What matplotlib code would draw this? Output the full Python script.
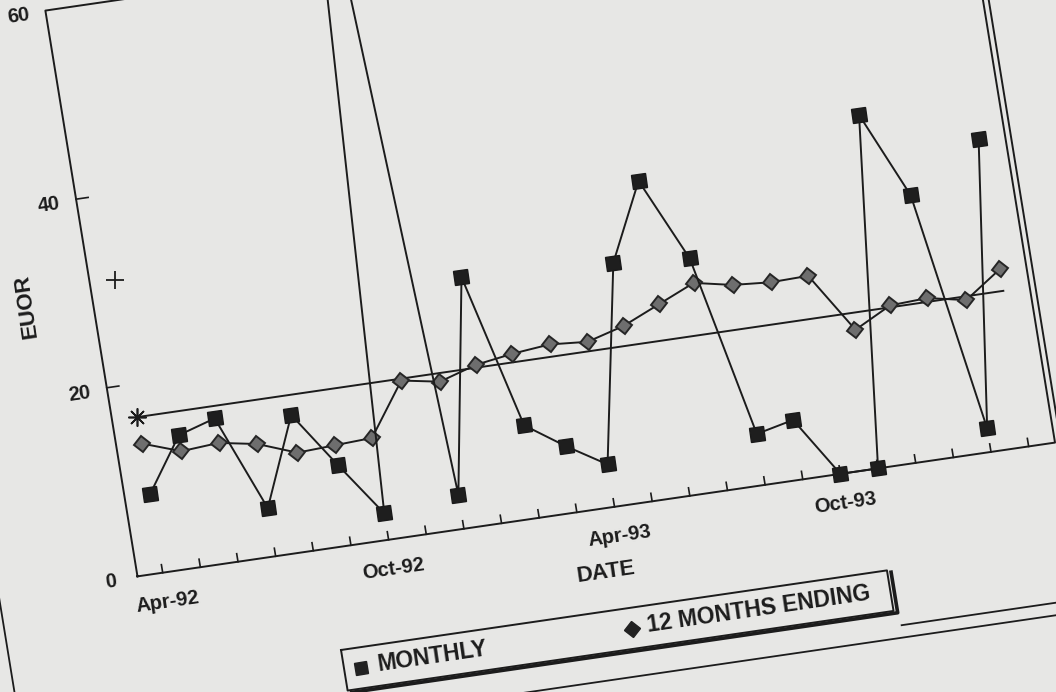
import matplotlib.pyplot as plt
from matplotlib.markers import MarkerStyle
from matplotlib.transforms import Affine2D
import numpy as np

# months counted from Apr-92 (0) to Mar-94 (23)
months = np.arange(24)
monthly = [8.3, 14.0, 15.2, 5.1, 14.4, 8.5, 2.8, 80.0, 3.6, 26.1, 9.8, 7.0,
           4.5, 25.3, 33.4, 24.6, 5.4, 6.3, 0.0, 0.0, 36.9, 27.8, 2.5, 32.6]
twelve_months = [13.7, 12.3, 12.6, 11.9, 10.4, 10.6, 10.8, 16.3, 15.6, 16.8, 17.4, 17.8,
                 17.5, 18.6, 20.3, 22.0, 21.2, 20.9, 21.0, 14.7, 16.7, 16.9, 16.1, 18.8]
mean_level = 16.5
upper_level = 31.0
tick_months = [0, 6, 12, 18]
tick_labels = ['Apr-92', 'Oct-92', 'Apr-93', 'Oct-93']
y_ticks = [0, 20, 40, 60]

x_min, x_max = -0.67, 23.7
y_min, y_max = 0, 60

ink = '#1c1c1c'
paper = '#e7e7e5'
angle = 8.3

plt.rcParams['font.family'] = ['Liberation Sans', 'DejaVu Sans']

fig = plt.figure(figsize=(10.56, 6.92), dpi=100)
fig.patch.set_facecolor(paper)
ax = fig.add_axes([0, 0, 1, 1])
ax.set_xlim(0, 1056)
ax.set_ylim(692, 0)
ax.axis('off')

# the printed chart was photographed slightly turned: month/value -> pixel
skew = Affine2D.from_values(37.65, -5.49, -1.535, -9.43, 162.7, 572.7) + ax.transData

tilt = Affine2D().rotate_deg(angle)
sq = MarkerStyle('s', transform=tilt)
dm = MarkerStyle('D', transform=tilt)

# plot frame
ax.plot([x_min, x_max, x_max, x_min, x_min], [y_min, y_min, y_max, y_max, y_min],
        color=ink, lw=1.4, transform=skew)
ax.plot([x_max + 0.15, x_max + 0.15], [y_min - 0.3, y_max], color=ink, lw=1.4, transform=skew)

# outer page border bits
ax.plot([-4.35, -4.35], [-14, 6], color=ink, lw=1.3, transform=skew)
ax.plot([18.95, 30], [-16.6, -16.6], color=ink, lw=1.3, transform=skew)
ax.plot([6.5, 30], [-17.9, -17.9], color=ink, lw=1.3, transform=skew)

# ticks
for m in months:
    ax.plot([m, m], [0, 0.85], color=ink, lw=1.2, transform=skew)
for v in y_ticks[1:-1]:
    ax.plot([x_min, x_min + 0.32], [v, v], color=ink, lw=1.2, transform=skew)

# tick labels
for m, lab in zip(tick_months, tick_labels):
    ax.text(m, -3.1, lab, transform=skew, rotation=angle, rotation_mode='anchor',
            ha='center', va='center', fontsize=14.5, fontweight='bold', color=ink)
for v in y_ticks:
    ax.text(x_min - 0.72, v - 0.2, str(v), transform=skew, rotation=angle, rotation_mode='anchor',
            ha='center', va='center', fontsize=14.5, fontweight='bold', color=ink)

ax.text(11.5, -6.7, 'DATE', transform=skew, rotation=angle, rotation_mode='anchor',
        ha='center', va='center', fontsize=16, fontweight='bold', color=ink)
ax.text(-2.4, 29.7, 'EUOR', transform=skew, rotation=90 + angle, rotation_mode='anchor',
        ha='center', va='center', fontsize=16, fontweight='bold', color=ink)

# series
ax.plot(months, [mean_level] * len(months), color=ink, lw=1.4, transform=skew,
        marker=(8, 2, 0), markevery=[0], markersize=13, mew=1.2, mec=ink)
ax.plot([0], [upper_level], ls='none', marker='+', markersize=13, mew=1.3, color=ink,
        transform=skew)
ax.plot(months, twelve_months, color=ink, lw=1.4, transform=skew,
        marker=dm, markersize=8.5, mfc='#6e6e6e', mec='#262626', mew=1.4)
ax.plot(months, monthly, color=ink, lw=1.4, transform=skew,
        marker=sq, markersize=10.5, mfc='#1e1e1e', mec='#1a1a1a', mew=1.0)

# legend box with shadow
lx0, lx1, ly0, ly1 = 4.3, 18.8, -10.7, -15.0
ax.plot([lx0, lx1, lx1, lx0, lx0], [ly0, ly0, ly1, ly1, ly0], color=ink, lw=1.4, transform=skew)
ax.plot([lx0 + 0.1, lx1 + 0.1, lx1 + 0.1], [ly1 - 0.25, ly1 - 0.25, ly0 - 0.25],
        color=ink, lw=2.6, transform=skew)
ax.plot([4.75], [-12.9], ls='none', marker=sq, markersize=9, color='#222222', transform=skew)
ax.text(5.2, -12.75, 'MONTHLY', transform=skew, rotation=angle, rotation_mode='anchor',
        ha='left', va='center', fontsize=16.5, fontweight='bold', color=ink)
ax.plot([11.95], [-12.9], ls='none', marker=dm, markersize=8, color='#222222', transform=skew)
ax.text(12.35, -12.75, '12 MONTHS ENDING', transform=skew, rotation=angle, rotation_mode='anchor',
        ha='left', va='center', fontsize=16.5, fontweight='bold', color=ink)

fig.savefig('out.png', dpi=100, facecolor=paper)
